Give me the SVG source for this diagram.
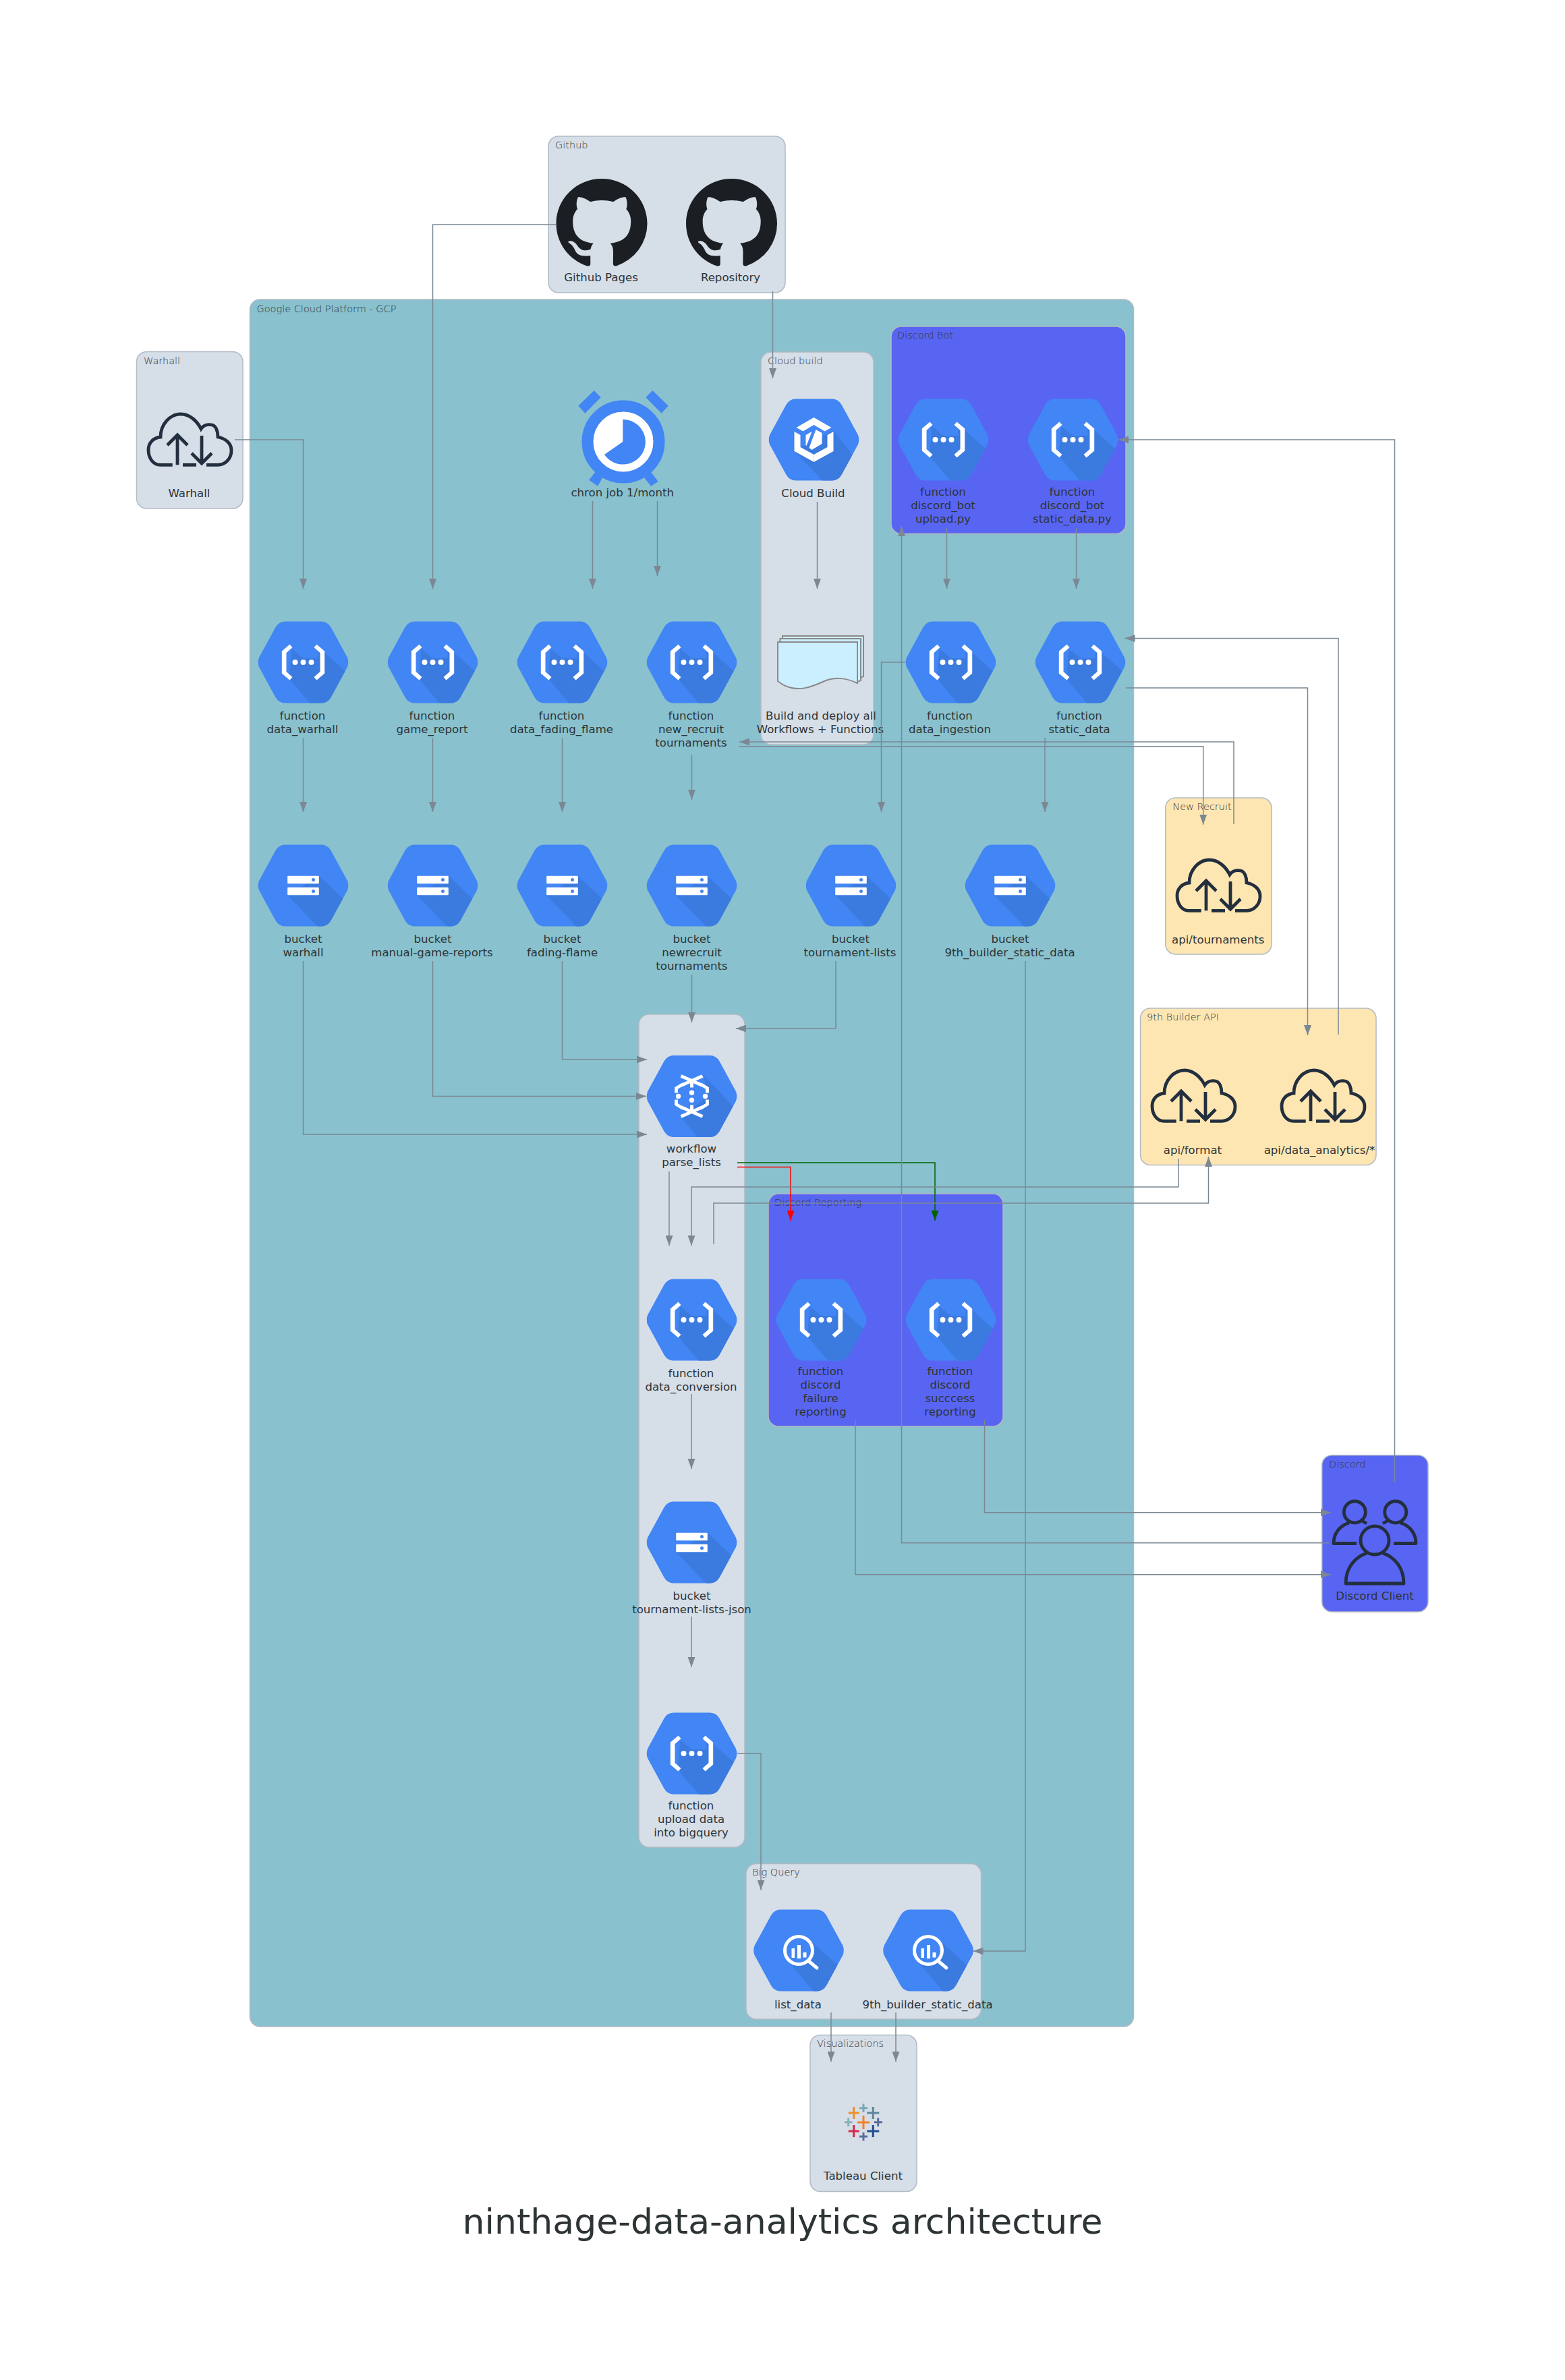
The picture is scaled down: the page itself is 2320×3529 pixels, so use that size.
<svg xmlns="http://www.w3.org/2000/svg" xmlns:xlink="http://www.w3.org/1999/xlink" width="2320" height="3529" viewBox="0 0 2320 3529">
<style>
text{font-family:"DejaVu Sans","Liberation Sans",sans-serif;fill:#2d3436}
.l{font-size:16.6px;text-anchor:middle;transform:translateY(-1.5px)}
.c{font-size:14.5px;font-weight:200}
.t{font-size:52px;text-anchor:middle}
.g{stroke:#b2bac4;stroke-width:1.5}
.gray{fill:#d6dee8}.blue{fill:#5865f2}.yel{fill:#fee6b2}.gcp{fill:#89c1ce}
.e{fill:none;stroke:#7b8894;stroke-width:1.5;marker-end:url(#a)}
.n{fill:none;stroke:#7b8894;stroke-width:1.5}
.ic{fill:none;stroke:#232f3e;stroke-width:4.8}
.w{fill:#fff}
.p{stroke-width:3;stroke-linecap:butt;fill:none}
</style>
<defs>
<marker id="a" markerUnits="userSpaceOnUse" markerWidth="15" markerHeight="11" refX="15" refY="5.5" orient="auto"><path d="M0 0L15 5.5L0 11Z" fill="#7b8894"/></marker>
<marker id="ar" markerUnits="userSpaceOnUse" markerWidth="15" markerHeight="11" refX="15" refY="5.5" orient="auto"><path d="M0 0L15 5.5L0 11Z" fill="#f00"/></marker>
<marker id="ag" markerUnits="userSpaceOnUse" markerWidth="15" markerHeight="11" refX="15" refY="5.5" orient="auto"><path d="M0 0L15 5.5L0 11Z" fill="#006400"/></marker>
<path id="hex" d="M-27-60.5H27Q36-60.5 41-52L65.5-7Q68 0 65.5 7L41 52Q36 60.5 27 60.5H-27Q-36 60.5-41 52L-65.5 7Q-68 0-65.5-7L-41-52Q-36-60.5-27-60.5Z"/>
<clipPath id="hc"><use href="#hex"/></clipPath>
<g id="fn">
<use href="#hex" fill="#4285f4"/>
<path clip-path="url(#hc)" fill="#3b7be0" d="M-17-20L0-6H22V-22L31-15L70 20L40 70H18L-21 24Z"/>
<path class="w" d="M-20-26.4L-31.7-16.4V16.4L-20 26.4L-16 22L-25 14V-14L-16-22Z"/>
<path class="w" d="M20-26.4L31.7-16.4V16.4L20 26.4L16 22L25 14V-14L16-22Z"/>
<circle class="w" cx="-12" r="4"/><circle class="w" r="4"/><circle class="w" cx="12" r="4"/>
</g>
<g id="bk">
<use href="#hex" fill="#4285f4"/>
<path clip-path="url(#hc)" fill="#3b7be0" d="M23.3-14.3L70 30L40 70H30L-23.3 14.3Z"/>
<rect class="w" x="-23.3" y="-14.3" width="46.6" height="11.6" rx="1"/>
<rect class="w" x="-23.3" y="2.7" width="46.6" height="11.6" rx="1"/>
<circle cx="15" cy="-8.5" r="2.5" fill="#4285f4"/><circle cx="15" cy="8.5" r="2.5" fill="#4285f4"/>
</g>
<g id="bq">
<use href="#hex" fill="#4285f4"/>
<path clip-path="url(#hc)" fill="#3b7be0" d="M18-14L70 33L40 70H30L-16 16Z"/>
<circle r="20.5" fill="#4285f4" stroke="#fff" stroke-width="5"/>
<path fill="none" stroke="#fff" stroke-width="5" stroke-linecap="round" d="M15 16L27 26"/>
<path class="w" d="M-10.500-3H-6V11H-10.500ZM-2-8H3V12H-2ZM6.500 3H11.500V10.500H6.500Z"/>
</g>
<g id="cb">
<use href="#hex" fill="#4285f4"/>
<path clip-path="url(#hc)" fill="#3b7be0" d="M29-14L70 40L40 70H22L-29 17Z"/>
<path class="w" d="M0-33L26-18L16-12.500L0-22L-16-12.500L-26-18Z"/>
<path class="w" d="M-29-12L-20-7V11L0 22V33L-29 17Z"/>
<path class="w" d="M29-12L20-7V11L0 22V33L29 17Z"/>
<path class="w" d="M-12-7L-3-12L-11 9L-12 8ZM3-15L12-10L12 6L-3 15L-7 12Z"/>
</g>
<g id="wf">
<use href="#hex" fill="#4285f4"/>
<path clip-path="url(#hc)" fill="#3b7be0" d="M18-31L70 25L40 70H16L-16 31L24 0Z"/>
<path fill="none" stroke="#fff" stroke-width="4.800" d="M-16-30L16-16M16-30L-16-16M0-22V-13M-13-18L-23-12V-5M13-18L23-12V-5M-16 30L16 16M16 30L-16 16M0 22V13M-13 18L-23 12V5M13 18L23 12V5"/>
<g class="w"><circle cx="0" cy="-5.300" r="3.700"/><circle cx="0" cy="5.700" r="3.700"/><circle cx="-20" r="3.700"/><circle cx="20" r="3.700"/></g>
</g>
<g id="cl" class="ic">
<path d="M37.700 77.300H20C8 77.300 2 66 2 55C2 45 9 37 20 36C20 17 34 2 50 2C63 2 74 12 80 24C84 18 91 17 96 18C102 19 105 27 105 36C116 38 125 45 125 56C125 68 116 77.300 105 77.300H88"/>
<path d="M53 77.300H73M45 77.300V33M30 48L45 33L60 48M81 34V75M66 60L81 75L96 60"/>
</g>
<path id="gh" fill="#1b1f23" fill-rule="evenodd" d="M8 0C3.580 0 0 3.580 0 8c0 3.540 2.290 6.530 5.470 7.590.4.07.55-.17.55-.38 0-.19-.01-.82-.01-1.490-2.010.37-2.530-.49-2.690-.94-.09-.23-.48-.94-.82-1.130-.28-.15-.68-.52-.01-.53.63-.01 1.080.58 1.230.82.72 1.210 1.870.87 2.330.66.07-.52.28-.87.51-1.070-1.780-.2-3.640-.89-3.640-3.950 0-.87.31-1.590.82-2.150-.08-.2-.36-1.020.08-2.120 0 0 .67-.21 2.200.82.64-.18 1.320-.27 2-.27.68 0 1.360.09 2 .27 1.530-1.040 2.200-.82 2.200-.82.44 1.100.16 1.920.08 2.120.51.56.82 1.270.82 2.150 0 3.070-1.870 3.750-3.650 3.950.29.25.54.73.54 1.480 0 1.070-.01 1.930-.01 2.200 0 .21.15.46.55.38A8.013 8.013 0 0016 8c0-4.420-3.580-8-8-8z"/>
</defs>

<g id="cluster-gcp"><rect class="g gcp" x="370.500" y="444" width="1310" height="2561" rx="15"/><text class="c" x="380.500" y="463">Google Cloud Platform - GCP</text></g>
<g id="cluster-github"><rect class="g gray" x="813" y="202" width="351" height="232" rx="15"/><text class="c" x="823" y="220">Github</text></g>
<g id="cluster-warhall"><rect class="g gray" x="202.500" y="521.500" width="157.500" height="232.500" rx="15"/><text class="c" x="213" y="540">Warhall</text></g>
<g id="cluster-cloudbuild"><rect class="g gray" x="1128" y="522" width="167" height="582" rx="15"/><text class="c" x="1138" y="540">Cloud build</text></g>
<g id="cluster-discordbot"><rect class="g blue" x="1321" y="484" width="348" height="307.500" rx="15"/><text class="c" x="1330" y="502">Discord Bot</text></g>
<g id="cluster-workflow"><rect class="g gray" x="947" y="1504" width="157" height="1235" rx="15"/></g>
<g id="cluster-discordreporting"><rect class="g blue" x="1139" y="1770" width="348" height="345" rx="15"/><text class="c" x="1148" y="1788">Discord Reporting</text></g>
<g id="cluster-bigquery"><rect class="g gray" x="1106" y="2763.500" width="348.500" height="230.500" rx="15"/><text class="c" x="1115" y="2781">Big Query</text></g>
<g id="cluster-newrecruit"><rect class="g yel" x="1727.700" y="1183" width="157.300" height="232" rx="15"/><text class="c" x="1738.300" y="1200.700">New Recruit</text></g>
<g id="cluster-9thapi"><rect class="g yel" x="1690.500" y="1495" width="349.500" height="232.500" rx="15"/><text class="c" x="1700" y="1513">9th Builder API</text></g>
<g id="cluster-discord"><rect class="g blue" x="1959.700" y="2157.700" width="157.300" height="232.300" rx="15"/><text class="c" x="1970" y="2176">Discord</text></g>
<g id="cluster-viz"><rect class="g gray" x="1201" y="3017.500" width="158" height="232" rx="15"/><text class="c" x="1211" y="3035">Visualizations</text></g>

<g id="github-pages"><use href="#gh" transform="translate(824.500 265) scale(8.440 8.300)"/><text class="l" x="891" y="418.500">Github Pages</text></g>
<g id="repository"><use href="#gh" transform="translate(1017 265) scale(8.440 8.300)"/><text class="l" x="1083" y="418.500">Repository</text></g>
<g id="warhall"><use href="#cl" x="218" y="612"/><text class="l" x="280.500" y="738">Warhall</text></g>
<g id="chron">
<circle cx="924" cy="655" r="53" fill="#fff" stroke="#4285f4" stroke-width="17"/>
<path fill="#4285f4" d="M923.300 622A33.300 33.300 0 1 1 896 674L923.300 655Z"/>
<path fill="#4285f4" d="M857.300 601.700L880.700 579L890.700 589.300L867.300 612.700ZM957.300 589.300L967.300 579L990.700 601.700L980.700 612.700ZM873.300 711.700L882.300 700L893.300 708.300L886 720.700ZM955 708.300L965 700L975.700 714L965 720.700Z"/>
<text class="l" x="922.700" y="737.500">chron job 1/month</text>
</g>
<g id="cloud-build"><use href="#cb" x="1206.500" y="652"/><text class="l" x="1205.500" y="738">Cloud Build</text></g>
<g id="artifacts">
<path fill="#ccefff" stroke="#8a8a8a" stroke-width="2" d="M1160 943H1280V1003L1272 1007V950H1160Z"/>
<path fill="#ccefff" stroke="#8a8a8a" stroke-width="2" d="M1156.500 947H1276V1009L1271 1011V952H1156.500Z"/>
<path fill="#ccefff" stroke="#8a8a8a" stroke-width="2" d="M1153 952H1271V1013C1250 1003 1235 1005 1222 1010C1200 1020 1185 1024 1170 1019C1163 1017 1158 1014 1153 1010Z"/>
<text class="l" x="1217" y="1068">Build and deploy all</text><text class="l" x="1216" y="1088">Workflows + Functions</text>
</g>
<g id="fn-discord-upload"><use href="#fn" x="1398.500" y="652"/><text class="l" x="1398" y="736">function</text><text class="l" x="1398" y="756">discord_bot</text><text class="l" x="1398" y="776">upload.py</text></g>
<g id="fn-discord-static"><use href="#fn" x="1590.500" y="652"/><text class="l" x="1589.500" y="736">function</text><text class="l" x="1589.500" y="756">discord_bot</text><text class="l" x="1589.500" y="776">static_data.py</text></g>

<g id="fn-warhall"><use href="#fn" x="449.500" y="982"/><text class="l" x="448.500" y="1068">function</text><text class="l" x="448.500" y="1088">data_warhall</text></g>
<g id="fn-game"><use href="#fn" x="641.500" y="982"/><text class="l" x="640.500" y="1068">function</text><text class="l" x="640.500" y="1088">game_report</text></g>
<g id="fn-fading"><use href="#fn" x="833.500" y="982"/><text class="l" x="832.500" y="1068">function</text><text class="l" x="832.500" y="1088">data_fading_flame</text></g>
<g id="fn-newrecruit"><use href="#fn" x="1025.500" y="982"/><text class="l" x="1024.500" y="1068">function</text><text class="l" x="1024.500" y="1088">new_recruit</text><text class="l" x="1024.500" y="1108">tournaments</text></g>
<g id="fn-ingestion"><use href="#fn" x="1409.500" y="982"/><text class="l" x="1408" y="1068">function</text><text class="l" x="1408" y="1088">data_ingestion</text></g>
<g id="fn-static"><use href="#fn" x="1601.500" y="982"/><text class="l" x="1600" y="1068">function</text><text class="l" x="1600" y="1088">static_data</text></g>

<g id="bk-warhall"><use href="#bk" x="449.500" y="1313"/><text class="l" x="449.500" y="1399">bucket</text><text class="l" x="449.500" y="1419">warhall</text></g>
<g id="bk-manual"><use href="#bk" x="641.500" y="1313"/><text class="l" x="641.500" y="1399">bucket</text><text class="l" x="640.500" y="1419">manual-game-reports</text></g>
<g id="bk-fading"><use href="#bk" x="833.500" y="1313"/><text class="l" x="833.500" y="1399">bucket</text><text class="l" x="833.500" y="1419">fading-flame</text></g>
<g id="bk-newrecruit"><use href="#bk" x="1025.500" y="1313"/><text class="l" x="1025.500" y="1399">bucket</text><text class="l" x="1025.500" y="1419">newrecruit</text><text class="l" x="1025.500" y="1439">tournaments</text></g>
<g id="bk-lists"><use href="#bk" x="1261.500" y="1313"/><text class="l" x="1261" y="1399">bucket</text><text class="l" x="1260" y="1419">tournament-lists</text></g>
<g id="bk-static"><use href="#bk" x="1497.500" y="1313"/><text class="l" x="1497.500" y="1399">bucket</text><text class="l" x="1497" y="1419">9th_builder_static_data</text></g>

<g id="api-tournaments"><use href="#cl" x="1743" y="1273"/><text class="l" x="1805.700" y="1400">api/tournaments</text></g>
<g id="api-format"><use href="#cl" x="1706" y="1585"/><text class="l" x="1768" y="1712.500">api/format</text></g>
<g id="api-analytics"><use href="#cl" x="1898" y="1585"/><text class="l" x="1956" y="1712.500">api/data_analytics/*</text></g>

<g id="wf-parse"><use href="#wf" x="1025.500" y="1625.500"/><text class="l" x="1025" y="1710">workflow</text><text class="l" x="1025" y="1730.500">parse_lists</text></g>
<g id="fn-conversion"><use href="#fn" x="1025.500" y="1957"/><text class="l" x="1024.500" y="2043">function</text><text class="l" x="1024.500" y="2063.500">data_conversion</text></g>
<g id="fn-failure"><use href="#fn" x="1217.500" y="1957"/><text class="l" x="1216.500" y="2040">function</text><text class="l" x="1216.500" y="2060">discord</text><text class="l" x="1216.500" y="2080">failure</text><text class="l" x="1216.500" y="2100.500">reporting</text></g>
<g id="fn-success"><use href="#fn" x="1409.500" y="1957"/><text class="l" x="1408.500" y="2040">function</text><text class="l" x="1408.500" y="2060">discord</text><text class="l" x="1408.500" y="2080">succcess</text><text class="l" x="1408.500" y="2100.500">reporting</text></g>
<g id="bk-json"><use href="#bk" x="1025.500" y="2287"/><text class="l" x="1025.500" y="2373">bucket</text><text class="l" x="1025.500" y="2393">tournament-lists-json</text></g>
<g id="fn-upload"><use href="#fn" x="1025.500" y="2600"/><text class="l" x="1024.500" y="2684">function</text><text class="l" x="1024.500" y="2704">upload data</text><text class="l" x="1024.500" y="2724">into bigquery</text></g>
<g id="bq-list"><use href="#bq" x="1184" y="2892"/><text class="l" x="1183" y="2979.500">list_data</text></g>
<g id="bq-static"><use href="#bq" x="1376" y="2892"/><text class="l" x="1375" y="2979.500">9th_builder_static_data</text></g>

<g id="tableau">
<path class="p" stroke="#f28e2b" d="M1265.700 3124V3142M1257.700 3133H1273.700" stroke-width="3.500"/>
<path class="p" stroke="#5b879b" d="M1294.300 3124V3142M1285.300 3133H1303.300" stroke-width="3.500"/>
<path class="p" stroke="#f28228" d="M1280 3137V3157M1271 3147H1289" stroke-width="4"/>
<path class="p" stroke="#d7294f" d="M1265.700 3151V3169M1257.700 3160H1273.700" stroke-width="3.500"/>
<path class="p" stroke="#1f4f8f" d="M1294.300 3151V3169M1285.300 3160H1303.300" stroke-width="3.500"/>
<path class="p" stroke="#7aa8b5" d="M1280 3119.500V3132M1274 3125.700H1286" stroke-width="2.500"/>
<path class="p" stroke="#8ab0b8" d="M1257.700 3140.500V3153M1252 3146.700H1263.500" stroke-width="2.500"/>
<path class="p" stroke="#5a6b9c" d="M1301.700 3140.500V3153M1296 3146.700H1308" stroke-width="2.500"/>
<path class="p" stroke="#5a6b9c" d="M1280 3162V3174M1274 3168H1286" stroke-width="2.500"/>
<text class="l" x="1279.500" y="3233">Tableau Client</text>
</g>

<g id="discord-client">
<circle class="ic" cx="2038" cy="2284" r="21"/>
<circle class="ic" cx="2008.300" cy="2242" r="16"/>
<circle class="ic" cx="2068.700" cy="2242" r="16"/>
<path class="ic" stroke-linejoin="round" d="M2026 2303C2008 2309 1995 2325 1995 2348H2081C2081 2325 2068 2309 2050 2303"/>
<path class="ic" stroke-linejoin="round" d="M2000 2258C1986 2262 1977 2274 1977 2288.500H2011M2019 2255L2026 2259M2076 2258C2090 2262 2099 2274 2099 2288.500H2066M2057 2255L2050 2259"/>
<text class="l" x="2038" y="2373">Discord Client</text>
</g>

<text class="t" x="1160" y="3312">ninthage-data-analytics architecture</text>

<g id="connectors">
<path class="e" d="M824 333H641.500V873"/>
<path class="e" d="M348 652H449.500V873"/>
<path class="e" d="M878.500 743V873"/>
<path class="e" d="M974.500 743V854"/>
<path class="e" d="M1145.500 432V561"/>
<path class="e" d="M1211.500 744V873"/>
<path class="e" d="M1403.500 783V873"/>
<path class="e" d="M1595.500 783V873"/>
<path class="e" d="M449.500 1094V1204"/>
<path class="e" d="M641.500 1094V1204"/>
<path class="e" d="M833.500 1094V1204"/>
<path class="e" d="M1025.500 1119V1186"/>
<path class="e" d="M1342 982H1306.500V1204"/>
<path class="e" d="M1549 1094V1204"/>
<path class="e" d="M1829 1222V1100H1096"/>
<path class="e" d="M1096 1106.700H1783.700V1222.700"/>
<path class="e" d="M1669 1020H1938.500V1535"/>
<path class="e" d="M1984 1534V946.500H1667.500"/>
<path class="e" d="M2067.500 2197V652H1658"/>
<path class="e" d="M449.500 1425V1682H959"/>
<path class="e" d="M641.500 1425V1625.500H958"/>
<path class="e" d="M833.500 1425V1571H959"/>
<path class="e" d="M1025.500 1445V1516"/>
<path class="e" d="M1239 1425V1525H1091"/>
<path fill="none" stroke="#006400" stroke-width="1.500" marker-end="url(#ag)" d="M1093 1724H1386V1810"/>
<path fill="none" stroke="#f00" stroke-width="1.500" marker-end="url(#ar)" d="M1093 1730.500H1172V1810"/>
<path class="e" d="M992 1737V1847"/>
<path class="e" d="M1747 1718V1760H1025V1847"/>
<path class="e" d="M1058 1845V1784H1791.500V1715"/>
<path class="e" d="M1025 2067V2178"/>
<path class="e" d="M1025 2397V2472"/>
<path class="e" d="M1459.500 2105V2242.700H1972.700"/>
<path class="e" d="M1268 2105V2334.700H1972.700"/>
<path class="e" d="M1970.700 2287.700H1336.500V780"/>
<path class="e" d="M1093 2600H1128V2802.500"/>
<path class="e" d="M1520 1425V2893H1442.500"/>
<path class="e" d="M1232 2984V3057"/>
<path class="e" d="M1328 2984V3057"/>
</g>
</svg>
